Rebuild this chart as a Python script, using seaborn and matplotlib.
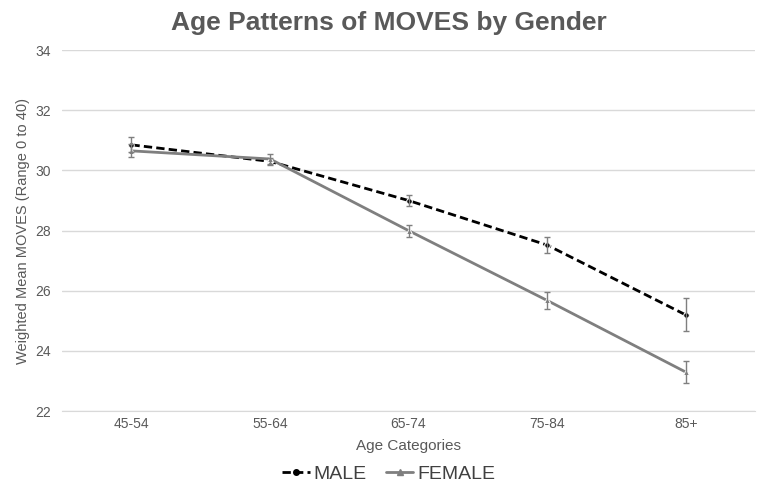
import matplotlib
matplotlib.use("Agg")
import matplotlib.pyplot as plt
import seaborn as sns
import pandas as pd

ages = ["45-54", "55-64", "65-74", "75-84", "85+"]
male = [30.85, 30.3, 29.0, 27.52, 25.2]
male_err = [0.25, 0.12, 0.17, 0.28, 0.55]
female = [30.65, 30.38, 28.0, 25.68, 23.3]
female_err = [0.22, 0.15, 0.2, 0.27, 0.37]

sns.set_style("white")
plt.rcParams["font.family"] = ["Liberation Sans", "DejaVu Sans"]

df = pd.DataFrame({
    "pos": list(range(len(ages))) * 2,
    "value": male + female,
    "gender": ["MALE"] * len(ages) + ["FEMALE"] * len(ages),
})

text_col = "#595959"
fig = plt.figure(figsize=(7.58, 4.86), dpi=100)
ax = fig.add_axes([0.082, 0.154, 0.914, 0.743])

sns.lineplot(data=df, x="pos", y="value", hue="gender", style="gender",
             palette={"MALE": "black", "FEMALE": "#7f7f7f"},
             dashes={"MALE": (3, 1.5), "FEMALE": ""},
             markers={"MALE": "o", "FEMALE": "^"},
             markersize=4, linewidth=2, ax=ax, legend=False)

pos = list(range(len(ages)))
ax.errorbar(pos, male, yerr=male_err, fmt="none", ecolor="#7f7f7f",
            elinewidth=1, capsize=2.5, capthick=1, zorder=3)
ax.errorbar(pos, female, yerr=female_err, fmt="none", ecolor="#7f7f7f",
            elinewidth=1, capsize=2.5, capthick=1, zorder=3)

ax.set_xlim(-0.5, len(ages) - 0.5)
ax.set_ylim(22, 34)
ax.set_yticks(range(22, 35, 2))
ax.set_xticks(pos)
ax.set_xticklabels(ages)
ax.yaxis.grid(True, color="#d9d9d9", linewidth=1)
ax.set_axisbelow(True)
for s in ["top", "right", "left"]:
    ax.spines[s].set_visible(False)
ax.spines["bottom"].set_color("#d9d9d9")
ax.tick_params(axis="x", length=0, colors=text_col, labelsize=10, pad=4)
ax.tick_params(axis="y", length=0, colors=text_col, labelsize=10, pad=8)

ax.set_xlabel("Age Categories", color=text_col, fontsize=11, labelpad=6)
ax.set_ylabel("Weighted Mean MOVES (Range 0 to 40)", color=text_col, fontsize=10.5)
fig.suptitle("Age Patterns of MOVES by Gender", fontsize=19, fontweight="bold",
             color=text_col, x=0.513, y=0.978)

handles = [
    plt.Line2D([], [], color="black", linestyle=(0, (3, 1.5)), linewidth=2,
               marker="o", markersize=4),
    plt.Line2D([], [], color="#7f7f7f", linewidth=2, marker="^", markersize=4),
]
fig.legend(handles, ["MALE", "FEMALE"], loc="lower center", ncol=2,
           frameon=False, fontsize=14, labelcolor="#404040",
           bbox_to_anchor=(0.513, -0.03), handlelength=1.4, handletextpad=0.2,
           columnspacing=1.0)

fig.savefig("out.png", dpi=100)
